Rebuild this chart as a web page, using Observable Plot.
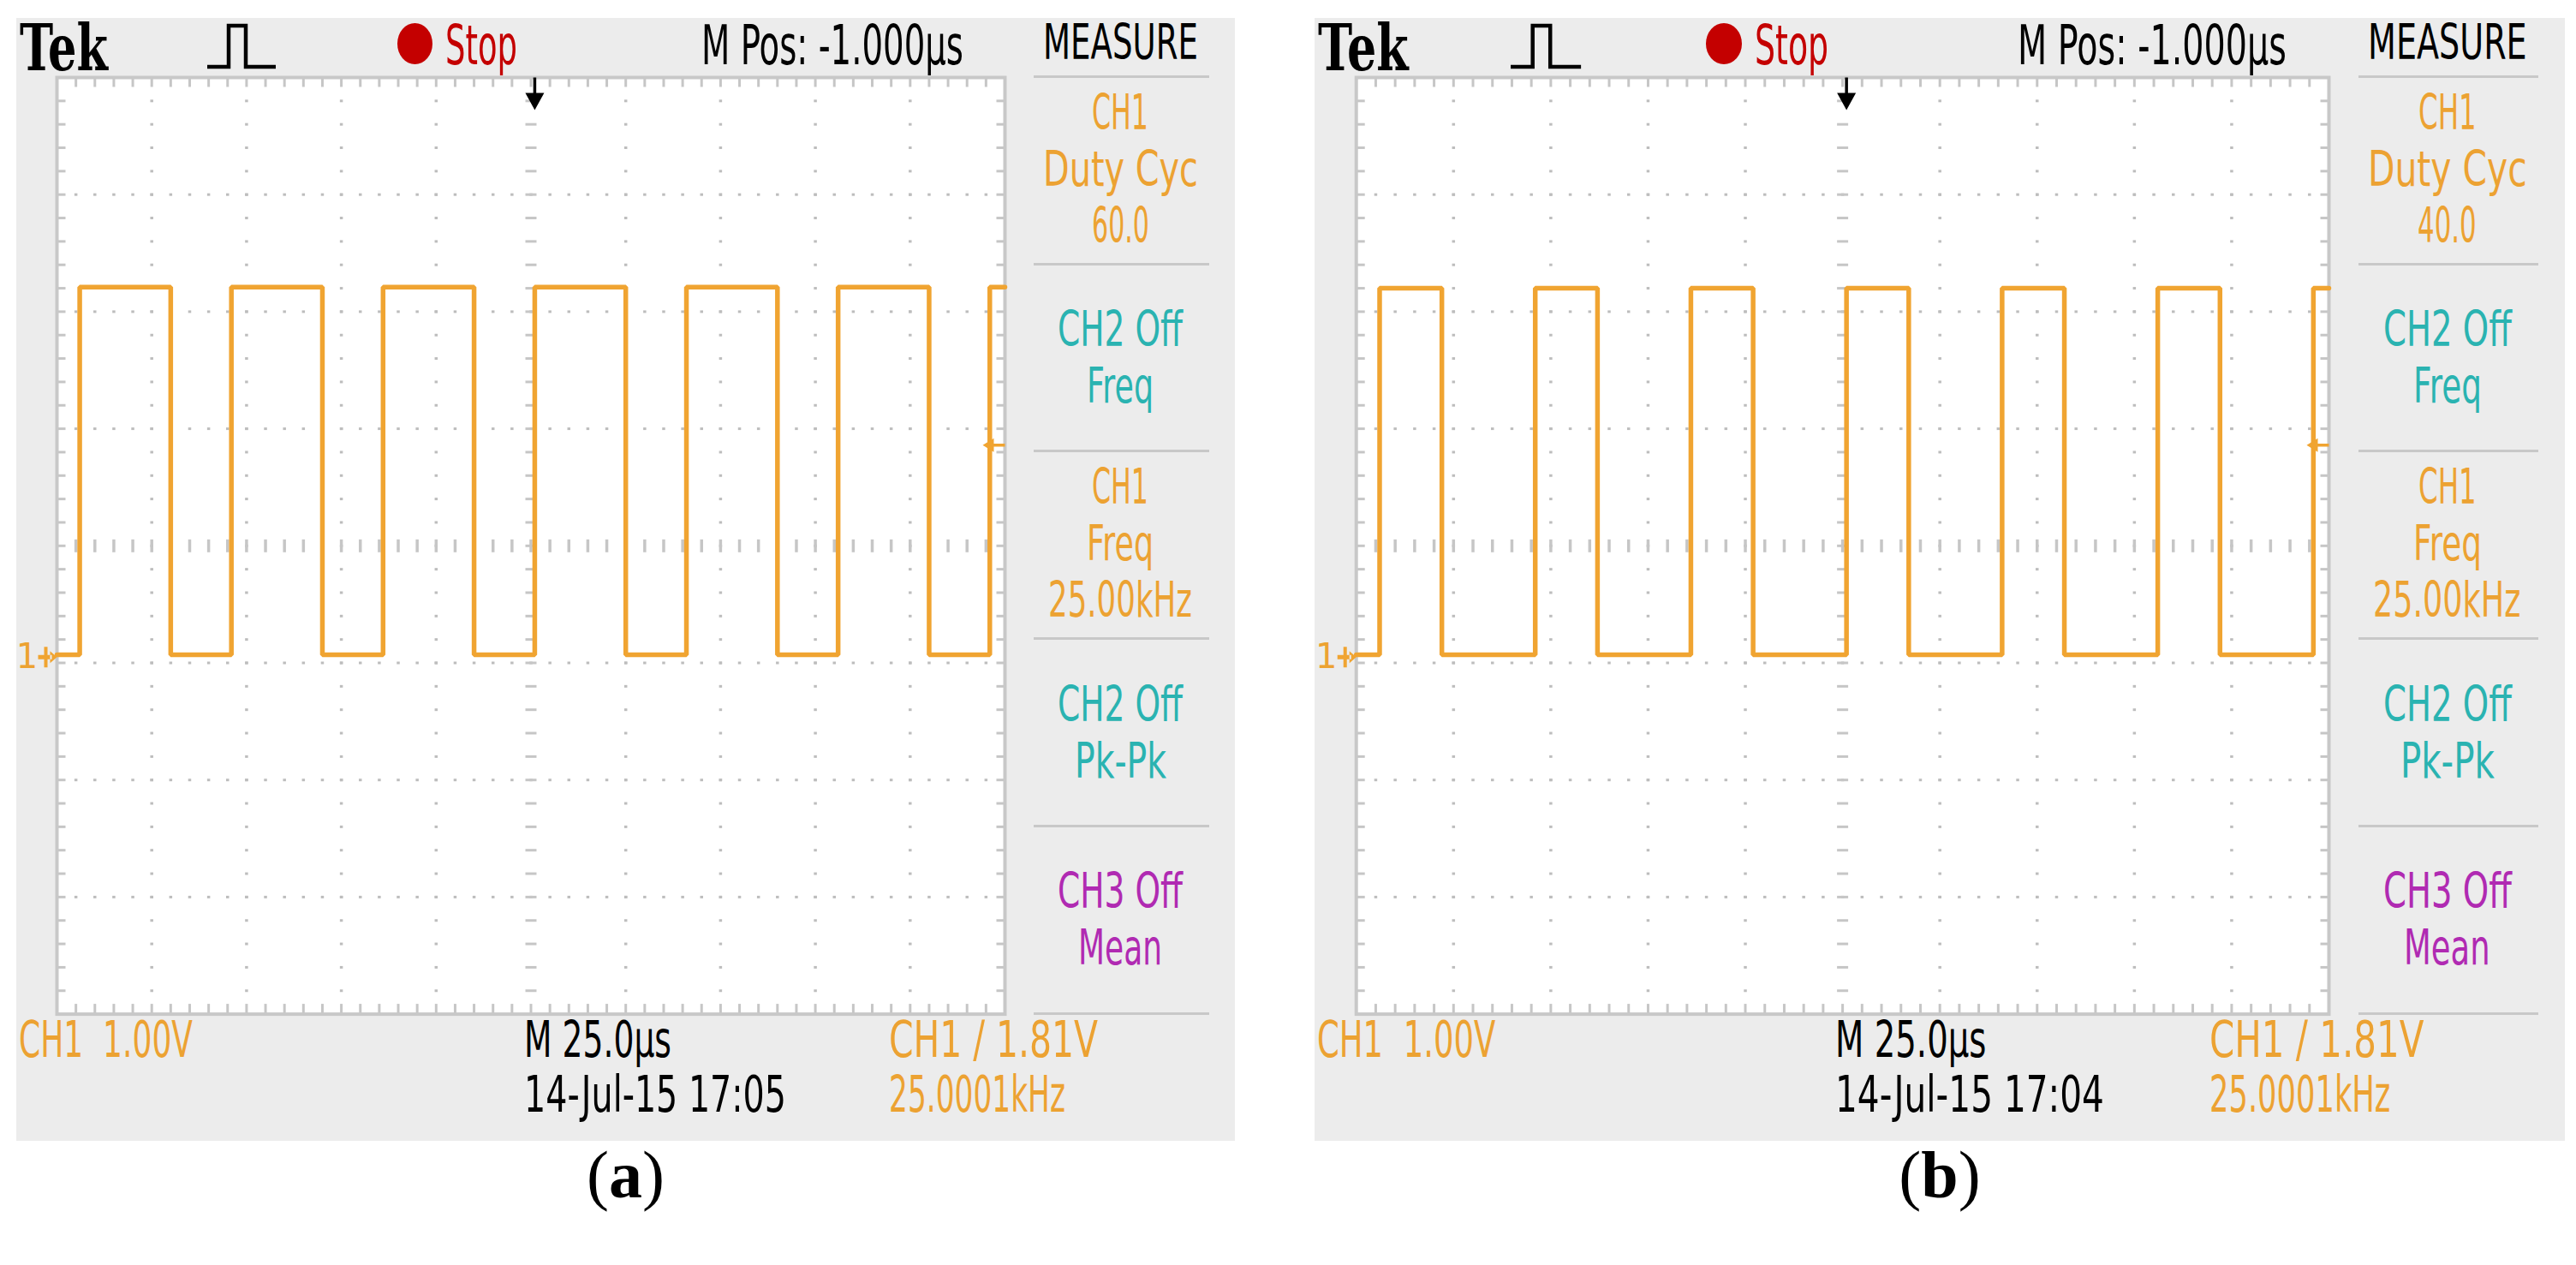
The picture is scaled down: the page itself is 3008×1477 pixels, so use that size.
<!DOCTYPE html>
<html>
<head>
<meta charset="utf-8">
<script src="https://cdn.jsdelivr.net/npm/d3@7"></script>
<script src="https://cdn.jsdelivr.net/npm/@observablehq/plot@0.6"></script>
<style>
  html, body { margin: 0; padding: 0; background: #fff; }
  #root { position: relative; width: 3008px; height: 1477px; overflow: hidden; background: #fff; }
</style>
</head>
<body>
<div id="root"></div>
<script>
// ---------------- data ----------------
const panelCaptions   = ["a", "b"];
const dutyCycleText   = ["60.0", "40.0"];
const timestampText   = ["14-Jul-15 17:05", "14-Jul-15 17:04"];
const risingEdgesUs   = [[6, 46, 86, 126, 166, 206, 246], [6, 46, 86, 126, 166, 206, 246]];
const fallingEdgesUs  = [[30, 70, 110, 150, 190, 230],    [22, 62, 102, 142, 182, 222]];
const highLevelV      = [3.16, 3.15];
const lowLevelV       = [0.02, 0.02];
const triggerLevelV   = 1.81;
const triggerTimeUs   = 126;
const timePerDivUs    = 25;
const voltsPerDiv     = 1.0;
const ch1PositionDiv  = 0.05;
const divisionsX      = 10;
const divisionsY      = [-3, 5];
const headerTexts     = { brand: "Tek", state: "Stop", mpos: "M Pos: -1.000µs", measure: "MEASURE" };
const footerTexts     = { ch1: "CH1  1.00V", timebase: "M 25.0µs", trig: "CH1 / 1.81V", freq: "25.0001kHz" };
const measureSlots = [
  { lines: ["CH1", "Duty Cyc", null], color: "orange" },
  { lines: ["CH2 Off", "Freq"],        color: "cyan" },
  { lines: ["CH1", "Freq", "25.00kHz"], color: "orange" },
  { lines: ["CH2 Off", "Pk-Pk"],       color: "cyan" },
  { lines: ["CH3 Off", "Mean"],        color: "magenta" }
];

// ---------------- styles / layout ----------------
const COL = { orange: "#eca232", cyan: "#2ab3b1", magenta: "#b02ab2", red: "#c40000",
              trace: "#f0a431", panel: "#ececec", border: "#c8c8c8", grid: "#bdbdbd", dash: "#c6c6c6" };
const SCOPE_FONT = "'DejaVu Sans', 'Liberation Sans', sans-serif";
const P0 = 19, PANEL_TOP = 20.7, PANEL_W = 1423, PANEL_H = 1311.3;
const SCREEN_LEFT = 66, SCREEN_TOP = 89.5, SCREEN_W = 1107, SCREEN_H = 1093.6;
const MEAS_CX = 1308, MEAS_SEP_X = 1207, MEAS_SEP_W = 205;
const textWidth = { "MEASURE": 181, "CH1": 66, "Duty Cyc": 181, "60.0": 67, "40.0": 67, "CH2 Off": 146,
                    "Freq": 78, "25.00kHz": 168, "Pk-Pk": 107, "CH3 Off": 146, "Mean": 98 };
const panels = [{ left: 19, sx: 1 }, { left: 1535, sx: 1460 / 1423 }];

const root = document.getElementById("root");

function box(x, y, w, h, color, extra = "") {
  const d = document.createElement("div");
  d.style.cssText = `position:absolute;left:${x}px;top:${y}px;width:${w}px;height:${h}px;background:${color};${extra}`;
  root.appendChild(d);
  return d;
}

function label(content, o) {
  const { x, base, w, cap, color = "#000", family = SCOPE_FONT, weight = 400, anchor = "start",
          capRatio = 0.729, html = false, size } = o;
  const fs = size || cap / capRatio;
  const el = document.createElement("div");
  el.style.cssText = `position:absolute;left:0;top:0;white-space:pre;font-family:${family};font-weight:${weight};font-size:${fs}px;line-height:1;color:${color};transform-origin:0 0;`;
  if (html) el.innerHTML = content; else el.textContent = content;
  const probe = document.createElement("span");
  probe.style.cssText = "display:inline-block;width:0;height:0;vertical-align:baseline;";
  el.appendChild(probe);
  root.appendChild(el);
  const nat = el.getBoundingClientRect().width;
  const s = w ? w / nat : 1;
  const ww = nat * s;
  const left = anchor === "middle" ? x - ww / 2 : anchor === "end" ? x - ww : x;
  el.style.left = left + "px";
  el.style.top = (base - probe.offsetTop) + "px";
  if (s !== 1) el.style.transform = `scaleX(${s})`;
  return el;
}

// custom pixel-sized symbols for Plot.dot
const R = (x, y, w, h) => ({ draw(c) { c.moveTo(x, y); c.lineTo(x + w, y); c.lineTo(x + w, y + h); c.lineTo(x, y + h); c.closePath(); } });
const T = (a, b, d) => ({ draw(c) { c.moveTo(a[0], a[1]); c.lineTo(b[0], b[1]); c.lineTo(d[0], d[1]); c.closePath(); } });
const combo = (...s) => ({ draw(c, z) { s.forEach(q => q.draw(c, z)); } });
const SYM = {
  dot: R(-1.75, -1.5, 3.5, 3),
  hDash: R(-6.5, -1.5, 13, 3),
  vDash: R(-1.75, -7.5, 3.5, 15),
  top: R(-1.5, 0, 3, 11),
  bottom: R(-1.5, -12, 3, 12),
  left: R(0, -1.5, 10, 3),
  right: R(-10, -1.5, 10, 3),
  trig: combo(T([-26, 0], [-13, -8], [-13, 8]), R(-14, -1.75, 14, 3.5)),
  topArrow: combo(R(-1.75, 0, 3.5, 20), T([-11, 18], [11, 18], [0, 38])),
  gnd: combo(R(-22, -2.5, 16, 5), R(-15, -12, 4, 24), T([-8, -7], [-8, 7], [0, 0]))
};

function screenPlot(P, i) {
  const sx = P.sx;
  const W = SCREEN_W * sx, H = SCREEN_H;
  const mL = (SCREEN_LEFT - P0) * sx, mR = 14, mT = 14, mB = 14;
  const tMax = divisionsX * timePerDivUs;
  const yOf = v => v / voltsPerDiv + ch1PositionDiv;
  const edges = [...risingEdgesUs[i].map(t => ({ t, v: highLevelV[i] })),
                 ...fallingEdgesUs[i].map(t => ({ t, v: lowLevelV[i] }))].sort((a, b) => a.t - b.t);
  const trace = [{ t: 0, v: lowLevelV[i] }, ...edges, { t: tMax, v: edges[edges.length - 1].v }];

  const minorT = d3.range(1, divisionsX * 5).map(k => k * timePerDivUs / 5);
  const majorT = d3.range(1, divisionsX).map(k => k * timePerDivUs);
  const minorY = d3.range(divisionsY[0] * 5 + 1, divisionsY[1] * 5).map(k => k / 5);
  const majorY = d3.range(divisionsY[0] + 1, divisionsY[1]);
  const cT = tMax / 2, cY = (divisionsY[0] + divisionsY[1]) / 2;

  const onV = majorT.filter(t => t !== cT).flatMap(t => minorY.map(y => ({ t, y })));
  const onH = majorY.filter(y => y !== cY).flatMap(y => minorT.map(t => ({ t, y })));
  const cenV = minorY.map(y => ({ t: cT, y }));
  const cenH = minorT.map(t => ({ t, y: cY }));
  const topT = minorT.map(t => ({ t, y: divisionsY[1] }));
  const botT = minorT.map(t => ({ t, y: divisionsY[0] }));
  const lefT = minorY.map(y => ({ t: 0, y }));
  const rigT = minorY.map(y => ({ t: tMax, y }));

  const D = (data, sym, fill) => Plot.dot(data, { x: "t", y: "y", symbol: sym, r: 3, fill, stroke: "none" });

  const plot = Plot.plot({
    width: mL + W + mR, height: mT + H + mB,
    marginLeft: mL, marginRight: mR, marginTop: mT, marginBottom: mB,
    x: { domain: [0, tMax], axis: null },
    y: { domain: divisionsY, axis: null },
    style: { background: "transparent", overflow: "visible" },
    marks: [
      Plot.frame({ fill: "white", stroke: "none" }),
      D(onV, SYM.dot, COL.grid),
      D(onH, SYM.dot, COL.grid),
      D(cenV, SYM.hDash, COL.dash),
      D(cenH, SYM.vDash, COL.dash),
      D(topT, SYM.top, COL.dash),
      D(botT, SYM.bottom, COL.dash),
      D(lefT, SYM.left, COL.dash),
      D(rigT, SYM.right, COL.dash),
      Plot.frame({ stroke: COL.border, strokeWidth: 4, fill: "none" }),
      Plot.line(trace, { x: "t", y: d => yOf(d.v), curve: "step-after", stroke: COL.trace, strokeWidth: 5.5, strokeLinejoin: "miter" }),
      D([{ t: tMax, y: yOf(triggerLevelV) }], SYM.trig, COL.trace),
      D([{ t: triggerTimeUs, y: divisionsY[1] }], SYM.topArrow, "#000"),
      D([{ t: 0, y: yOf(0) }], SYM.gnd, COL.trace),
      Plot.text([{ t: 0, y: yOf(0) }], { x: "t", y: "y", text: () => "1", dx: -35, fill: COL.orange,
        fontSize: 40, fontFamily: "DejaVu Sans", fontWeight: 400, textAnchor: "middle" })
    ]
  });
  const wrap = document.createElement("div");
  wrap.style.cssText = `position:absolute;left:${P.left}px;top:${SCREEN_TOP - mT}px;`;
  wrap.appendChild(plot);
  root.appendChild(wrap);
}

function buildPanel(P, i) {
  const X = xa => P.left + (xa - P0) * P.sx;
  const Wd = w => w * P.sx;
  box(P.left, PANEL_TOP, PANEL_W * P.sx, PANEL_H, COL.panel);

  // header
  label(headerTexts.brand, { x: X(23), base: 82, w: Wd(103), cap: 55, family: "'DejaVu Serif', serif", weight: 700 });
  const ns = "http://www.w3.org/2000/svg";
  const icon = document.createElementNS(ns, "svg");
  icon.setAttribute("width", Wd(84)); icon.setAttribute("height", 56);
  icon.style.cssText = `position:absolute;left:${X(240)}px;top:26px;`;
  const pl = document.createElementNS(ns, "polyline");
  const s = P.sx;
  pl.setAttribute("points", `${2*s},52 ${27*s},52 ${27*s},4 ${47*s},4 ${47*s},52 ${82*s},52`);
  pl.setAttribute("fill", "none"); pl.setAttribute("stroke", "#000"); pl.setAttribute("stroke-width", 4.5);
  icon.appendChild(pl); root.appendChild(icon);
  box(X(464), 27, Wd(41), 48, COL.red, "border-radius:50%;");
  label(headerTexts.state, { x: X(520), base: 75, w: Wd(84), cap: 47, color: COL.red });
  label(headerTexts.mpos, { x: X(819), base: 75, w: Wd(306), cap: 47 });
  label(headerTexts.measure, { x: X(MEAS_CX), anchor: "middle", base: 69, w: Wd(textWidth["MEASURE"]), cap: 42 });

  // measure panel
  const slotH = SCREEN_H / 5;
  for (let k = 0; k <= 5; k++) box(X(MEAS_SEP_X), SCREEN_TOP + k * slotH - 1.5, Wd(MEAS_SEP_W), 3, COL.border);
  measureSlots.forEach((slot, k) => {
    const sep = SCREEN_TOP + k * slotH;
    const offs = slot.lines.length === 3 ? [61, 127, 193] : [96, 162];
    slot.lines.forEach((t, j) => {
      const txt = t === null ? dutyCycleText[i] : t;
      label(txt, { x: X(MEAS_CX), anchor: "middle", base: sep + offs[j], w: Wd(textWidth[txt]), cap: 41, color: COL[slot.color] });
    });
  });

  // screen
  screenPlot(P, i);

  // footer
  label(footerTexts.ch1, { x: X(22), base: 1234, w: Wd(203), cap: 43, color: COL.orange });
  label(footerTexts.timebase, { x: X(612), base: 1234, w: Wd(172), cap: 43 });
  label(timestampText[i], { x: X(612), base: 1298, w: Wd(306), cap: 43 });
  label(footerTexts.trig, { x: X(1038), base: 1234, w: Wd(244), cap: 43, color: COL.orange });
  label(footerTexts.freq, { x: X(1038), base: 1298, w: Wd(206), cap: 43, color: COL.orange });

  // caption
  label(`(<b>${panelCaptions[i]}</b>)`, { x: X(P0 + PANEL_W / 2), anchor: "middle", base: 1398, size: 78,
    family: "'Liberation Serif', 'DejaVu Serif', serif", html: true });
}

panels.forEach(buildPanel);
</script>
</body>
</html>
